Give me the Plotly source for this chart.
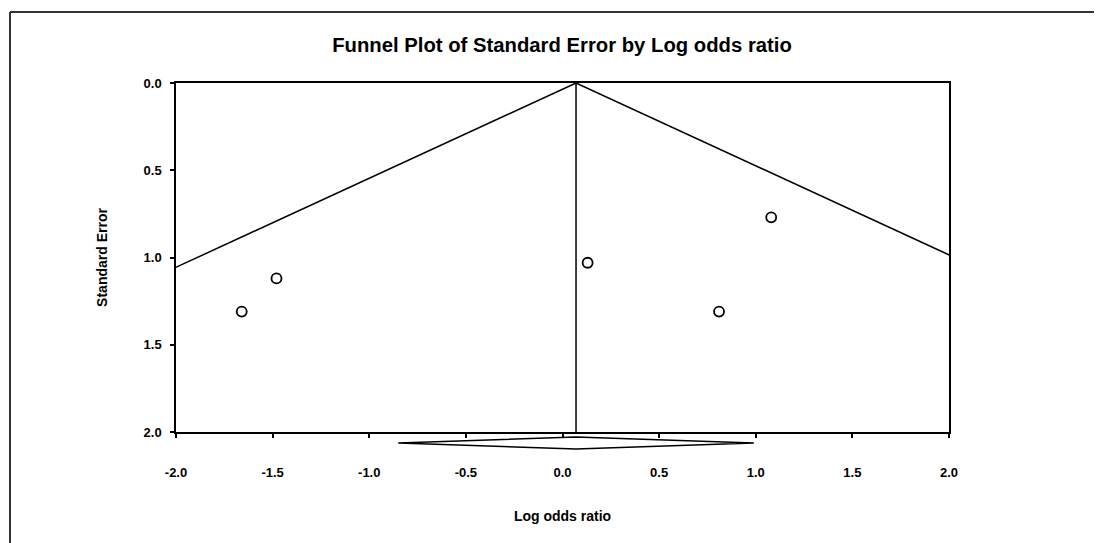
import plotly.graph_objects as go

# Study data (log odds ratio, standard error)
study_lor = [-1.66, -1.48, 0.13, 0.81, 1.08]
study_se = [1.31, 1.12, 1.03, 1.31, 0.77]

# Pooled estimate and CI
pooled_est = 0.07
pooled_lo = -0.85
pooled_hi = 0.99

x_tickvals = [-2.0, -1.5, -1.0, -0.5, 0.0, 0.5, 1.0, 1.5, 2.0]
x_ticktext = ["-2.0", "-1.5", "-1.0", "-0.5", "0.0", "0.5", "1.0", "1.5", "2.0"]
y_tickvals = [0.0, 0.5, 1.0, 1.5, 2.0]
y_ticktext = ["0.0", "0.5", "1.0", "1.5", "2.0"]

se_max = 2.0
funnel_x = [pooled_est - 1.96 * se_max, pooled_est, pooled_est + 1.96 * se_max]
funnel_y = [se_max, 0.0, se_max]

FONT = "Liberation Sans, Arial, sans-serif"

fig = go.Figure()

fig.add_trace(go.Scatter(x=funnel_x, y=funnel_y, mode="lines",
                         line=dict(color="black", width=1.5), hoverinfo="skip"))
fig.add_trace(go.Scatter(x=[pooled_est, pooled_est], y=[0.0, se_max], mode="lines",
                         line=dict(color="black", width=1.5), hoverinfo="skip"))
fig.add_trace(go.Scatter(x=study_lor, y=study_se, mode="markers",
                         marker=dict(symbol="circle-open", size=10, color="black",
                                     line=dict(width=1.8, color="black"))))
# pooled diamond below the axis
fig.add_trace(go.Scatter(x=[pooled_lo, pooled_est, pooled_hi, pooled_est, pooled_lo],
                         y=[0, 1, 0, -1, 0], mode="lines", xaxis="x", yaxis="y2",
                         line=dict(color="black", width=1.5), hoverinfo="skip"))

fig.update_layout(
    width=1102, height=543,
    margin=dict(l=168, r=161, t=75, b=96),
    paper_bgcolor="white", plot_bgcolor="white",
    showlegend=False,
    font=dict(family=FONT, color="black"),
    title=dict(text="<b>Funnel Plot of Standard Error by Log odds ratio</b>",
               x=554 / 1102, xanchor="center", y=1 - 37 / 543, yanchor="middle",
               font=dict(size=20.3, family=FONT, color="black")),
    xaxis=dict(range=[-2, 2], tickvals=x_tickvals,
               ticktext=["<b>%s</b>" % t for t in x_ticktext],
               showgrid=False, zeroline=False, showline=True, mirror=True,
               linecolor="black", linewidth=1.5, ticks="outside", ticklen=4,
               tickcolor="black", tickwidth=1.5, anchor="y",
               ticklabelstandoff=24,
               tickfont=dict(size=13, family=FONT, color="black"),
               title=dict(text="<b>Log odds ratio</b>", standoff=32,
                          font=dict(size=14, family=FONT, color="black"))),
    yaxis=dict(range=[2, 0], tickvals=y_tickvals,
               ticktext=["<b>%s</b>" % t for t in y_ticktext],
               domain=[23 / 372, 1],
               showgrid=False, zeroline=False, showline=True, mirror=True,
               linecolor="black", linewidth=1.5, ticks="outside", ticklen=4,
               tickcolor="black", tickwidth=1.5, ticklabelstandoff=6,
               tickfont=dict(size=13, family=FONT, color="black"),
               title=dict(text="<b>Standard Error</b>", standoff=33,
                          font=dict(size=14, family=FONT, color="black"))),
    yaxis2=dict(range=[-1.5, 1.5], domain=[3 / 372, 21 / 372], visible=False,
                anchor="x"),
)

# outer frame (top and left edges visible)
px_left = (2 - 168) / 773
py_top = (447 - 4) / 372
fig.add_shape(type="line", xref="paper", yref="paper", x0=px_left, x1=px_left,
              y0=-0.5, y1=py_top, line=dict(color="#333333", width=2))
fig.add_shape(type="line", xref="paper", yref="paper", x0=px_left, x1=1.5,
              y0=py_top, y1=py_top, line=dict(color="#333333", width=2))

fig.write_html("out.html")
